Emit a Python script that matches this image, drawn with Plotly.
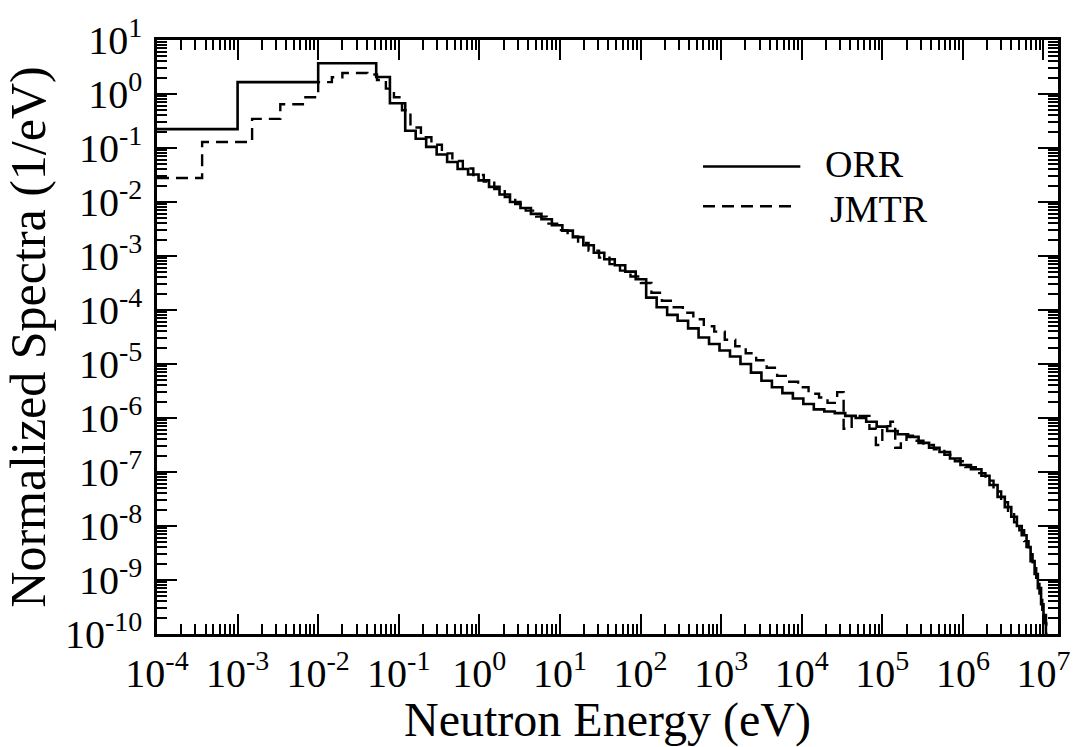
import plotly.graph_objects as go

# ---- data (log10 of energy group edges in eV, log10 of normalized spectra in 1/eV) ----
orr_log_edges = [
    -4.0, -3.0, -2.0, -1.28, -1.11, -0.92, -0.79, -0.66, -0.53, -0.40, -0.27, -0.14,
    -0.01, 0.12, 0.25, 0.38, 0.51, 0.64, 0.77, 0.90, 1.03, 1.16, 1.29, 1.42, 1.55,
    1.68, 1.81, 1.94, 2.07, 2.20, 2.33, 2.46, 2.59, 2.72, 2.85, 2.98, 3.11, 3.24,
    3.37, 3.50, 3.63, 3.76, 3.89, 4.02, 4.15, 4.28, 4.41, 4.54, 4.67, 4.80, 4.93,
    5.06, 5.19, 5.32, 5.45, 5.58, 5.71, 5.84, 5.97, 6.10, 6.23, 6.33, 6.43, 6.52,
    6.60, 6.67, 6.73, 6.79, 6.84, 6.89, 6.93, 6.97, 7.00, 7.03,
]
orr_log_values = [
    -0.65, 0.22, 0.57, 0.315, -0.17, -0.68, -0.83, -0.98, -1.12, -1.26, -1.39, -1.49,
    -1.60, -1.72, -1.86, -2.00, -2.11, -2.22, -2.32, -2.43, -2.53, -2.65, -2.80, -2.94,
    -3.06, -3.17, -3.29, -3.43, -3.77, -3.95, -4.09, -4.20, -4.34, -4.51, -4.63, -4.75,
    -4.86, -5.00, -5.16, -5.31, -5.43, -5.54, -5.64, -5.74, -5.84, -5.88, -5.91, -5.96,
    -6.00, -6.07, -6.16, -6.24, -6.30, -6.35, -6.46, -6.55, -6.63, -6.75, -6.87, -6.95,
    -7.07, -7.24, -7.46, -7.65, -7.83, -8.00, -8.17, -8.39, -8.65, -8.89, -9.15, -9.45,
    -9.65,
]
jmtr_log_edges = [
    -4.0, -3.44, -2.82, -2.47, -2.19, -2.0, -1.83, -1.70, -1.39, -1.27, -1.16, -1.06,
    -0.96, -0.855, -0.725, -0.595, -0.465, -0.335, -0.205, -0.075, 0.055, 0.185, 0.315,
    0.445, 0.575, 0.705, 0.835, 0.965, 1.095, 1.225, 1.355, 1.485, 1.615, 1.745, 1.875,
    2.005, 2.135, 2.265, 2.395, 2.525, 2.655, 2.785, 2.915, 3.045, 3.175, 3.305, 3.435,
    3.565, 3.695, 3.825, 3.955, 4.085, 4.215, 4.32, 4.44, 4.52, 4.62, 4.72, 4.84, 4.92,
    5.00, 5.10, 5.16, 5.23, 5.30, 5.38, 5.51, 5.64, 5.77, 5.90, 6.03, 6.16, 6.28, 6.38,
    6.475, 6.56, 6.635, 6.70, 6.76, 6.815, 6.865, 6.91, 6.95, 6.985, 7.015, 7.035,
]
jmtr_log_values = [
    -1.556, -0.89, -0.46, -0.19, -0.06, 0.22, 0.31, 0.39, 0.36, 0.26, 0.10, -0.06,
    -0.30, -0.62, -0.80, -0.94, -1.10, -1.24, -1.38, -1.50, -1.62, -1.76, -1.91, -2.04,
    -2.16, -2.27, -2.40, -2.52, -2.64, -2.76, -2.90, -3.03, -3.15, -3.27, -3.38, -3.50,
    -3.68, -3.83, -3.95, -4.05, -4.17, -4.30, -4.40, -4.55, -4.67, -4.80, -4.93, -5.07,
    -5.22, -5.33, -5.43, -5.55, -5.62, -5.72, -5.52, -6.20, -5.98, -5.96, -6.20, -6.50,
    -6.15, -6.07, -6.55, -6.45, -6.33, -6.42, -6.50, -6.58, -6.68, -6.80, -6.91, -7.02,
    -7.16, -7.36, -7.56, -7.75, -7.93, -8.08, -8.28, -8.52, -8.78, -9.02, -9.30, -9.55,
    -9.80,
]

x_tick_exps = list(range(-4, 8))
y_tick_exps = list(range(-10, 2))
x_tick_labels = ["10<sup>%d</sup>" % k for k in x_tick_exps]
y_tick_labels = ["10<sup>%d</sup>" % k for k in y_tick_exps]


def step_xy(edges, vals):
    x = [10 ** e for e in edges] + [10 ** edges[-1]]
    y = [10 ** v for v in vals] + [10 ** vals[-1], 1e-12]
    return x, y


FONT = "Liberation Serif, Times New Roman, serif"

fig = go.Figure()
ox, oy = step_xy(orr_log_edges, orr_log_values)
jx, jy = step_xy(jmtr_log_edges, jmtr_log_values)
fig.add_trace(go.Scatter(x=ox, y=oy, mode="lines", line_shape="hv", name="ORR",
                         line=dict(color="black", width=2.6)))
fig.add_trace(go.Scatter(x=jx, y=jy, mode="lines", line_shape="hv", name="JMTR",
                         line=dict(color="black", width=2.4, dash="12px,7px")))

x_minor = [m * 10 ** k for k in range(-4, 7) for m in range(2, 10)] + [2e7]
y_minor = [m * 10.0 ** k for k in range(-10, 1) for m in range(2, 10)]

common = dict(showline=True, linecolor="black", linewidth=2.5, mirror="allticks",
              ticks="inside", ticklen=20, tickwidth=2, tickcolor="black",
              showgrid=False, zeroline=False,
              tickfont=dict(family=FONT, size=40, color="black"))

fig.update_xaxes(type="log", range=[-4, 7.18], tickmode="array",
                 tickvals=[10.0 ** k for k in x_tick_exps], ticktext=x_tick_labels,
                 minor=dict(tickmode="array", tickvals=x_minor, ticks="inside",
                            ticklen=10, tickwidth=1.6, tickcolor="black"),
                 title=dict(text="Neutron Energy (eV)", standoff=6,
                            font=dict(family=FONT, size=48, color="black")),
                 ticklabelstandoff=2,
                 **common)
fig.update_yaxes(type="log", range=[-10, 1], tickmode="array",
                 tickvals=[10.0 ** k for k in y_tick_exps], ticktext=y_tick_labels,
                 minor=dict(tickmode="array", tickvals=y_minor, ticks="inside",
                            ticklen=10, tickwidth=1.6, tickcolor="black"),
                 title=dict(text="Normalized Spectra (1/eV)", standoff=4,
                            font=dict(family=FONT, size=50, color="black")),
                 ticklabelstandoff=4,
                 **common)

# legend drawn by hand to match the original placement
fig.add_shape(type="line", xref="paper", yref="paper", x0=0.606, x1=0.714, y0=0.787, y1=0.787,
              line=dict(color="black", width=2.6))
fig.add_shape(type="line", xref="paper", yref="paper", x0=0.606, x1=0.711, y0=0.720, y1=0.720,
              line=dict(color="black", width=2.4, dash="12px,7px"))
fig.add_annotation(xref="paper", yref="paper", x=0.739, y=0.792, text="ORR", showarrow=False,
                   xanchor="left", yanchor="middle", font=dict(family=FONT, size=38, color="black"))
fig.add_annotation(xref="paper", yref="paper", x=0.745, y=0.716, text="JMTR", showarrow=False,
                   xanchor="left", yanchor="middle", font=dict(family=FONT, size=38, color="black"))

fig.update_layout(width=1087, height=747, margin=dict(l=157, r=29, t=37, b=113),
                  paper_bgcolor="white", plot_bgcolor="white", showlegend=False,
                  font=dict(family=FONT, color="black"))

fig.write_html("out.html")
